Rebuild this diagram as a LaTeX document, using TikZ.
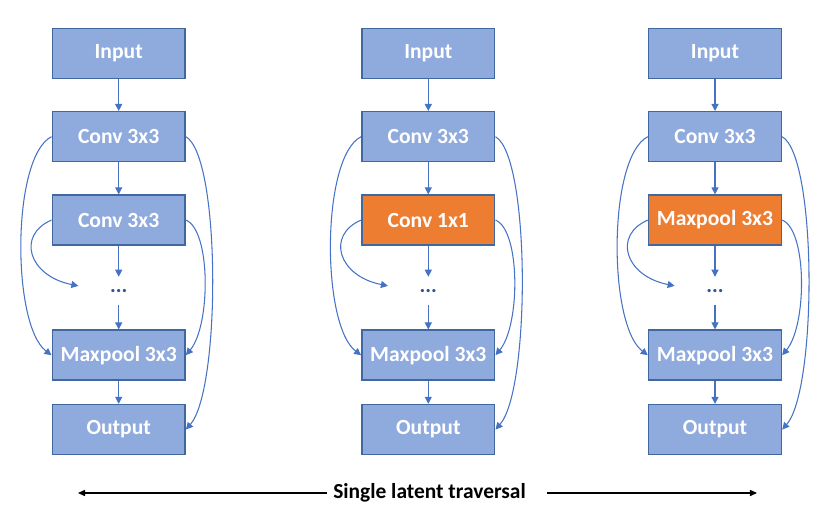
\documentclass[tikz,border=0pt]{standalone}
\usepackage{fontspec}
\setmainfont{Carlito}
\usetikzlibrary{positioning,arrows.meta}
\definecolor{boxfill}{HTML}{8FAADC}
\definecolor{boxline}{HTML}{41679F}
\definecolor{hotfill}{HTML}{ED7D31}
\definecolor{linkcol}{HTML}{4472C4}
\definecolor{dotcol}{HTML}{2F5597}

\begin{document}
\begin{tikzpicture}[x=0.02cm,y=-0.02cm,
    layer/.style={rectangle, draw=boxline, fill=boxfill, line width=0.8pt, minimum height=1cm, minimum width=2.66cm, inner sep=0, text=white, font=\bfseries\fontsize{12.3}{14}\selectfont},
    hot/.style={layer, fill=hotfill},
    gap/.style={minimum height=0.55cm, minimum width=1.6cm, inner sep=0, text=dotcol, font=\bfseries\fontsize{12.3}{14}\selectfont},
    link/.style={draw=linkcol, line width=0.6pt, -{Triangle[length=4pt,width=4pt]}},
    span/.style={draw=black, line width=0.6pt, -{Triangle[length=4pt,width=3.5pt]}}]
    \useasboundingbox (0,0) rectangle (831,528);

    % colonna 1
    \node[layer] (i1) at (118.7,53.3) {Input};
    \node[layer, below=0.64cm of i1] (c1) {Conv 3x3};
    \node[layer, below=0.64cm of c1] (k1) {Conv 3x3};
    \node[gap, below=0.62cm of k1] (d1) {...};
    \node[layer, below=0.49cm of d1] (m1) {Maxpool 3x3};
    \node[layer, below=0.46cm of m1] (o1) {Output};
    \draw[link] (i1) -- (c1);
    \draw[link] (c1) -- (k1);
    \draw[link] (k1) -- (d1);
    \draw[link] (d1) -- (m1);
    \draw[link] (m1) -- (o1);
    \draw[link] (c1.west) .. controls +(-40,20) and +(-40,-30) .. (m1.west);
    \draw[link] (k1.west) .. controls +(-35,15) and +(-50,-10) .. ([yshift=0.1cm]d1.west);
    \draw[link] (k1.east) .. controls +(25,10) and +(25,-30) .. (m1.east);
    \draw[link] (c1.east) .. controls +(35,20) and +(35,-40) .. (o1.east);

    % colonna 2
    \node[layer] (i2) at (428.3,53.3) {Input};
    \node[layer, below=0.64cm of i2] (c2) {Conv 3x3};
    \node[hot, below=0.64cm of c2] (k2) {Conv 1x1};
    \node[gap, below=0.62cm of k2] (d2) {...};
    \node[layer, below=0.49cm of d2] (m2) {Maxpool 3x3};
    \node[layer, below=0.46cm of m2] (o2) {Output};
    \draw[link] (i2) -- (c2);
    \draw[link] (c2) -- (k2);
    \draw[link] (k2) -- (d2);
    \draw[link] (d2) -- (m2);
    \draw[link] (m2) -- (o2);
    \draw[link] (c2.west) .. controls +(-40,20) and +(-40,-30) .. (m2.west);
    \draw[link] (k2.west) .. controls +(-35,15) and +(-50,-10) .. ([yshift=0.1cm]d2.west);
    \draw[link] (k2.east) .. controls +(25,10) and +(25,-30) .. (m2.east);
    \draw[link] (c2.east) .. controls +(35,20) and +(35,-40) .. (o2.east);

    % colonna 3
    \node[layer] (i3) at (715,53.3) {Input};
    \node[layer, below=0.64cm of i3] (c3) {Conv 3x3};
    \node[hot, below=0.64cm of c3] (k3) {Maxpool 3x3};
    \node[gap, below=0.62cm of k3] (d3) {...};
    \node[layer, below=0.49cm of d3] (m3) {Maxpool 3x3};
    \node[layer, below=0.46cm of m3] (o3) {Output};
    \draw[link] (i3) -- (c3);
    \draw[link] (c3) -- (k3);
    \draw[link] (k3) -- (d3);
    \draw[link] (d3) -- (m3);
    \draw[link] (m3) -- (o3);
    \draw[link] (c3.west) .. controls +(-40,20) and +(-40,-30) .. (m3.west);
    \draw[link] (k3.west) .. controls +(-35,15) and +(-50,-10) .. ([yshift=0.1cm]d3.west);
    \draw[link] (k3.east) .. controls +(25,10) and +(25,-30) .. (m3.east);
    \draw[link] (c3.east) .. controls +(35,20) and +(35,-40) .. (o3.east);

    % traversal
    \node[font=\bfseries\fontsize{12.2}{14}\selectfont] (trav) at (429.5,493) {Single latent traversal};
    \coordinate (sx) at (78,493);
    \coordinate (dx) at (757,493);
    \draw[span] (trav.west) -- (sx);
    \draw[span] ([xshift=0.3cm]trav.east) -- (dx);
\end{tikzpicture}
\end{document}
